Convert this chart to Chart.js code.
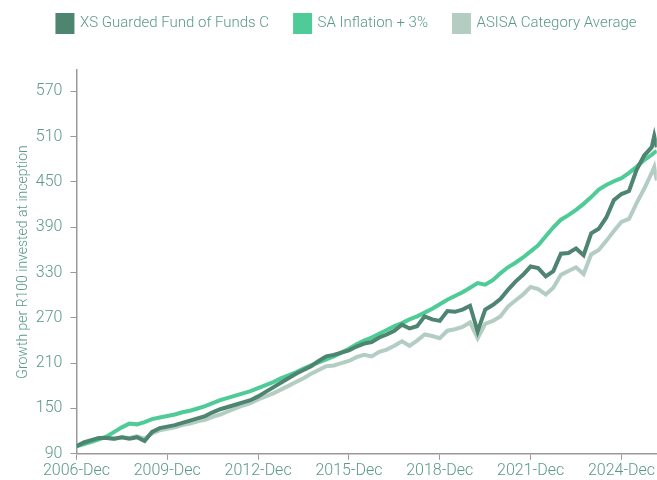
<!DOCTYPE html>
<html>
<head>
<meta charset="utf-8">
<script src="https://cdn.jsdelivr.net/npm/chart.js@4.4.1/dist/chart.umd.min.js"></script>
<style>
  html, body { margin: 0; padding: 0; background: #fff; }
  #wrap { width: 657px; height: 480px; }
</style>
</head>
<body>
<div id="wrap"><canvas id="myChart"></canvas></div>
<script>
// Months since 2006-Dec for each data point
const months = [0, 3, 6, 9, 12, 15, 18, 21, 24, 27, 30, 33, 36, 39, 42, 45, 48, 51, 54, 57,
    60, 63, 66, 69, 72, 75, 78, 81, 84, 87, 90, 93, 96, 99, 102, 105, 108, 111, 114, 117,
    120, 123, 126, 129, 132, 135, 138, 141, 144, 147, 150, 153, 156, 159, 162, 165, 168, 171, 174, 177,
    180, 183, 186, 189, 192, 195, 198, 201, 204, 207, 210, 213, 216, 219, 222, 225, 228, 229, 230];

const fundValues = [100, 105, 108, 111, 111, 110, 112, 110, 112, 107, 119, 124, 126, 128, 131, 134, 137, 140, 145, 149,
    152, 155, 158, 161, 166, 172, 178, 184, 190, 196, 201, 206, 213, 219, 221, 224, 227, 232, 236, 238,
    244, 248, 253, 261, 256, 259, 272, 268, 266, 279, 278, 281, 286, 252, 281, 287, 295, 307, 318, 327,
    338, 336, 325, 332, 355, 356, 362, 353, 382, 388, 403, 426, 434, 438, 466, 485, 496, 511, 496];

const inflationValues = [100, 103, 106, 109, 113, 119, 125, 130, 129, 132, 136, 138, 140, 142, 145, 147, 150, 153, 157, 161,
    164, 167, 170, 173, 177, 181, 185, 190, 194, 198, 203, 207, 211, 215, 219, 224, 229, 235, 240, 244,
    249, 254, 259, 263, 268, 272, 277, 282, 288, 294, 299, 304, 310, 316, 314, 320, 329, 337, 343, 350,
    358, 366, 378, 390, 400, 406, 413, 421, 430, 440, 446, 451, 455, 462, 470, 479, 486, 489, 491];

const asisaValues = [100, 105, 108, 111, 111, 110, 112, 111, 113, 110, 117, 121, 123, 125, 128, 130, 133, 135, 139, 142,
    146, 150, 154, 157, 162, 166, 170, 175, 180, 185, 190, 196, 201, 206, 207, 210, 213, 218, 221, 219,
    225, 228, 233, 239, 233, 240, 248, 246, 243, 253, 255, 258, 264, 243, 262, 266, 272, 285, 293, 301,
    311, 308, 301, 310, 327, 332, 337, 328, 354, 360, 372, 385, 397, 401, 422, 441, 462, 470, 452];

// Axis ticks
const xTickMonths = [0, 36, 72, 108, 144, 180, 216];
const xTickLabels = ['2006-Dec', '2009-Dec', '2012-Dec', '2015-Dec', '2018-Dec', '2021-Dec', '2024-Dec'];
const yTicks = [90, 150, 210, 270, 330, 390, 450, 510, 570];

const textColor = '#5a9a82';
const axisColor = '#9a9a9a';

function toPoints(values) {
    return values.map((v, i) => ({ x: months[i], y: v }));
}

// Nudge the legend right a little
const legendShift = {
    id: 'legendShift',
    afterLayout(chart) {
        chart.legend.left += 11;
        chart.legend.right += 11;
    }
};

new Chart("myChart", {
    type: "line",
    data: {
        datasets: [{
            label: "XS Guarded Fund of Funds C",
            data: toPoints(fundValues),
            borderColor: "#4e8571",
            backgroundColor: "#4e8571",
            borderWidth: 4,
            pointRadius: 0,
            fill: false,
            tension: 0
        }, {
            label: "SA Inflation + 3%",
            data: toPoints(inflationValues),
            borderColor: "#4fcb97",
            backgroundColor: "#4fcb97",
            borderWidth: 4,
            pointRadius: 0,
            fill: false,
            tension: 0
        }, {
            label: "ASISA Category Average",
            data: toPoints(asisaValues),
            borderColor: "#b3cdc2",
            backgroundColor: "#b3cdc2",
            borderWidth: 4,
            pointRadius: 0,
            fill: false,
            tension: 0
        }]
    },
    plugins: [legendShift],
    options: {
        responsive: true,
        maintainAspectRatio: false,
        animation: false,
        layout: { padding: { left: 15, right: 0, top: -11, bottom: -3 } },
        scales: {
            x: {
                type: 'linear',
                min: 0,
                max: 230,
                afterBuildTicks: scale => { scale.ticks = xTickMonths.map(v => ({ value: v })); },
                ticks: {
                    color: textColor,
                    font: { family: 'Roboto', size: 16, weight: 300 },
                    maxRotation: 0,
                    padding: 2,
                    callback: (value, index) => xTickLabels[index]
                },
                grid: { display: true, drawOnChartArea: false, drawTicks: true, tickLength: 6, color: axisColor },
                border: { color: axisColor, width: 1.5 }
            },
            y: {
                min: 90,
                max: 598,
                afterBuildTicks: scale => { scale.ticks = yTicks.map(v => ({ value: v })); },
                ticks: {
                    color: textColor,
                    font: { family: 'Roboto', size: 16, weight: 300 },
                    padding: 8
                },
                grid: { display: true, drawOnChartArea: false, drawTicks: true, tickLength: 6, color: axisColor },
                border: { color: axisColor, width: 1.5 },
                title: {
                    display: true,
                    text: 'Growth per R100 invested at inception',
                    color: textColor,
                    font: { family: 'Roboto', size: 14, weight: 300 },
                    padding: { top: 0, bottom: -4 }
                }
            }
        },
        plugins: {
            // empty spacer between legend and plot
            title: {
                display: true,
                text: '',
                position: 'top',
                weight: 500,
                font: { size: 1 },
                padding: { top: 0, bottom: 27 }
            },
            legend: {
                display: true,
                position: 'top',
                labels: {
                    color: textColor,
                    font: { family: 'Roboto', size: 15, weight: 300 },
                    boxWidth: 15,
                    boxHeight: 17,
                    padding: 26
                }
            },
            tooltip: { enabled: false }
        }
    }
});
</script>
</body>
</html>
